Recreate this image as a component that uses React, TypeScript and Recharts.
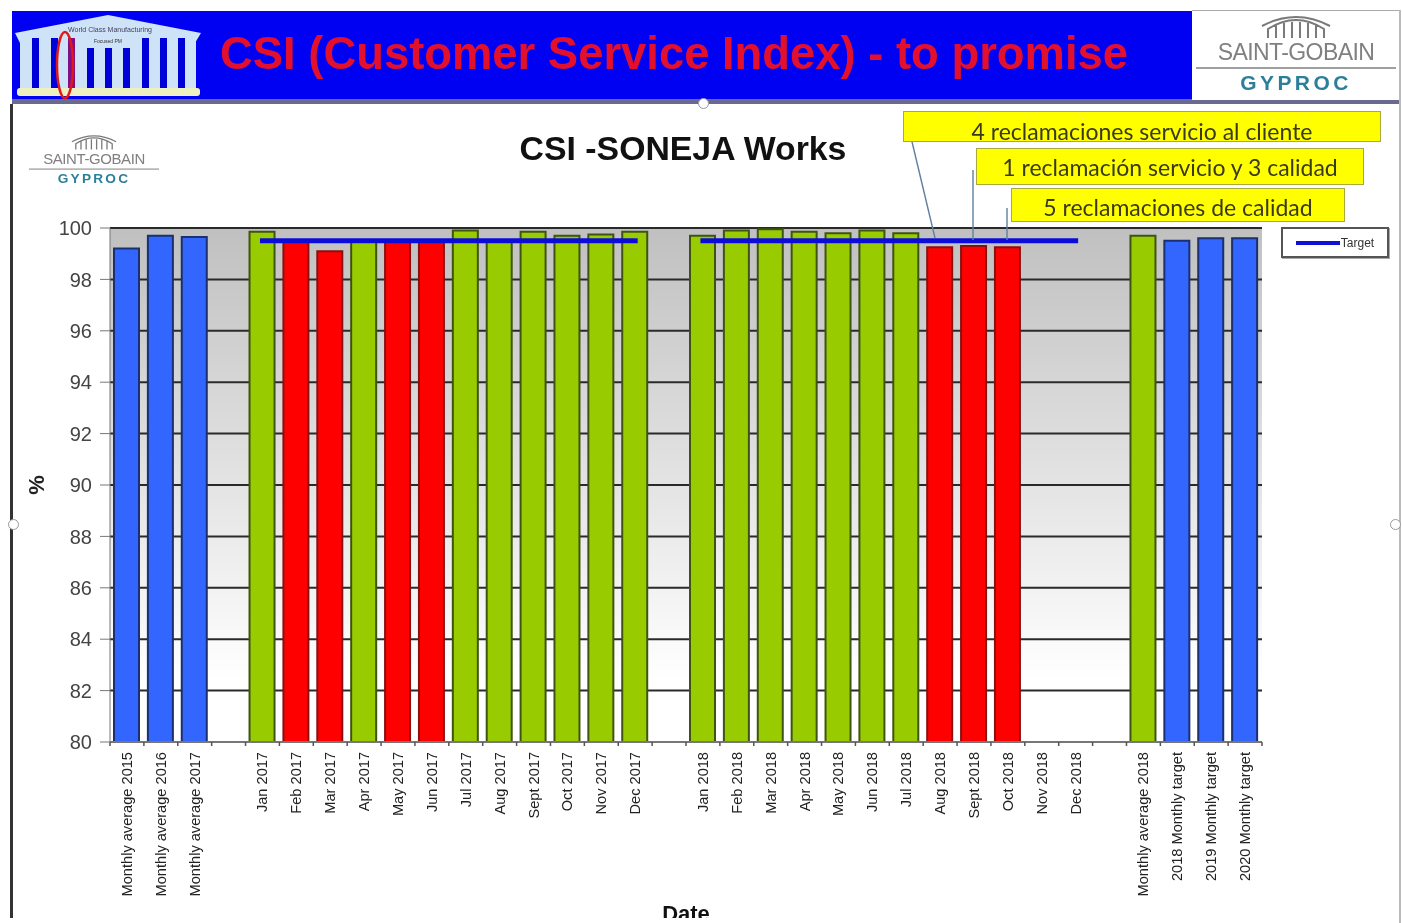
import { Bar, CartesianGrid, Cell, ComposedChart, Legend, Line, XAxis, YAxis } from 'recharts';

const WIDTH = 1402;
const HEIGHT = 923;
const MARGIN = { top: 228, right: 140, bottom: 0, left: 0 };

const labels = [
    'Monthly average 2015', 'Monthly average 2016', 'Monthly average 2017', '',
    'Jan 2017', 'Feb 2017', 'Mar 2017', 'Apr 2017', 'May 2017', 'Jun 2017',
    'Jul 2017', 'Aug 2017', 'Sept 2017', 'Oct 2017', 'Nov 2017', 'Dec 2017', '',
    'Jan 2018', 'Feb 2018', 'Mar 2018', 'Apr 2018', 'May 2018', 'Jun 2018',
    'Jul 2018', 'Aug 2018', 'Sept 2018', 'Oct 2018', 'Nov 2018', 'Dec 2018', '',
    'Monthly average 2018', '2018 Monthly target', '2019 Monthly target', '2020 Monthly target',
];

const csi = [
    99.2, 99.7, 99.65, null,
    99.85, 99.5, 99.1, 99.5, 99.5, 99.5, 99.9, 99.5, 99.85, 99.7, 99.75, 99.85, null,
    99.7, 99.9, 99.95, 99.85, 99.8, 99.9, 99.8, 99.25, 99.3, 99.25, null, null, null,
    99.7, 99.5, 99.6, 99.6,
];

const target = [
    null, null, null, null,
    99.5, 99.5, 99.5, 99.5, 99.5, 99.5, 99.5, 99.5, 99.5, 99.5, 99.5, 99.5, null,
    99.5, 99.5, 99.5, 99.5, 99.5, 99.5, 99.5, 99.5, 99.5, 99.5, 99.5, 99.5, null,
    null, null, null, null,
];

// b = average / target, g = on target, r = below target
const status = 'bbb-grrgrrgggggg-ggggggg' + 'rrr---' + 'gbbb';

const yTicks = [80, 82, 84, 86, 88, 90, 92, 94, 96, 98, 100];

const fills: any = { b: '#3366ff', g: '#99cc00', r: '#ff0000', '-': 'none' };
const strokes: any = { b: '#1a3070', g: '#3f5410', r: '#8a1010', '-': 'none' };

const notes = ['4 reclamaciones servicio al cliente', '1 reclamación servicio y 3 calidad', '5 reclamaciones de calidad'];

const rows = labels.map((label, i) => ({ label, csi: csi[i], target: target[i], status: status[i] }));

const BAND = (WIDTH - MARGIN.right - 110) / labels.length;

const CategoryTick = (props: any) => {
    const { x, y, payload, index } = props;
    return (
        <g>
            <line x1={x - BAND / 2} x2={x - BAND / 2} y1={y} y2={y + 4} stroke="#555" strokeWidth={1.5} />
            {index === labels.length - 1 && <line x1={x + BAND / 2} x2={x + BAND / 2} y1={y} y2={y + 4} stroke="#555" strokeWidth={1.5} />}
            <text
                transform={`translate(${x + 5},${y + 10}) rotate(-90)`}
                textAnchor="end"
                fontFamily="Liberation Sans"
                fontSize={14.6}
                fill="#222"
            >
                {payload.value}
            </text>
        </g>
    );
};

const TargetLegend = () => (
    <div style={{
        width: 104, height: 27, border: '2px solid #555', boxSizing: 'content-box', background: '#fff',
        display: 'flex', alignItems: 'center', justifyContent: 'center', gap: 1,
        fontFamily: 'Liberation Sans', fontSize: 12, color: '#333', boxShadow: '1px 1px 0 #aaa',
    }}>
        <span style={{ width: 44, height: 4, background: '#1010d8', display: 'inline-block' }}></span>
        <span>Target</span>
    </div>
);

const Logo = ({ left, top, scale }: any) => (
    <div style={{ position: 'absolute', left, top, width: 200, height: 90, transform: `scale(${scale})`, transformOrigin: '0 0', textAlign: 'center', fontFamily: 'Liberation Sans' }}>
        <svg width={200} height={26} style={{ display: 'block' }}>
            <path d="M72 24 V15 Q100 -3 128 15 V24 M66 12 Q100 -6 134 12 M80 24 V11 M88 24 V9 M96 24 V8 M104 24 V8 M112 24 V9 M120 24 V11" fill="none" stroke="#7a7a7a" strokeWidth={2} />
        </svg>
        <div style={{ fontSize: 23, color: '#808080', letterSpacing: -0.6, lineHeight: '24px', marginTop: 0 }}>SAINT-GOBAIN</div>
        <div style={{ height: 2, background: '#a0a0a0', margin: '3px 0 1px' }}></div>
        <div style={{ fontSize: 21, fontWeight: 700, color: '#2c7f9a', letterSpacing: 3.4, lineHeight: '26px' }}>GYPROC</div>
    </div>
);

const Temple = () => (
    <svg width={210} height={95} style={{ position: 'absolute', left: 0, top: 8 }}>
        <g transform="translate(0,-8)">
            <polygon points="108,15 201,33 195,43 20,43 15,33" fill="#cfe3f8" />
            <rect x={20} y={38} width={176} height={52} fill="#cfe3f8" />
            {[32, 51, 68, 87, 105, 123, 142, 160, 178].map((gx) => (
                <rect key={gx} x={gx} y={gx > 68 && gx < 142 ? 48 : 38} width={7} height={gx > 68 && gx < 142 ? 40 : 50} fill={gx === 68 ? '#80108a' : '#0000d8'} />
            ))}
            <rect x={17} y={88} width={183} height={8} rx={3} fill="#eef0c0" />
            <text x={110} y={32} textAnchor="middle" fontSize={7} fontFamily="Liberation Sans" fill="#404060">World Class Manufacturing</text>
            <text x={108} y={43} textAnchor="middle" fontSize={5} fontFamily="Liberation Sans" fill="#303030">Focused PM</text>
            <ellipse cx={65} cy={65} rx={8} ry={33} fill="none" stroke="#e01818" strokeWidth={2.5} />
        </g>
    </svg>
);

const noteBox = (text: string, left: number, top: number, width: number, height: number, pad: number) => (
    <div key={text} style={{
        position: 'absolute', left, top, width, height, boxSizing: 'border-box', background: '#ffff00', border: '1.5px solid #a9a93c', paddingTop: pad,
        display: 'flex', alignItems: 'center', justifyContent: 'center', fontFamily: 'Lato', fontSize: 23, color: '#3a3a18', whiteSpace: 'nowrap',
    }}>
        {text}
    </div>
);

export default function App() {
    return (
        <div style={{ position: 'absolute', left: 0, top: 0, width: WIDTH, height: HEIGHT, overflow: 'hidden', background: '#fff', filter: 'blur(0.7px)' }}>
            {/* header band */}
            <div style={{ position: 'absolute', left: 12, top: 11, width: 1180, height: 89, background: '#0000f2' }}></div>
            <div style={{ position: 'absolute', left: 12, top: 99, width: 1388, height: 5, background: '#6a6a90' }}></div>
            <Temple />
            <div style={{ position: 'absolute', left: 220, top: 29, fontFamily: 'Liberation Sans', fontWeight: 700, fontSize: 45.4, color: '#e2102c', whiteSpace: 'nowrap', lineHeight: '50px' }}>
                CSI (Customer Service Index) - to promise
            </div>
            <div style={{ position: 'absolute', left: 1192, top: 10, width: 207, height: 89, background: '#fff', borderTop: '1px solid #aaa' }}></div>
            <Logo left={1196} top={14} scale={1} />
            <Logo left={29} top={134} scale={0.65} />

            {/* frame */}
            <div style={{ position: 'absolute', left: 10, top: 104, width: 3, height: 819, background: '#333' }}></div>
            <div style={{ position: 'absolute', left: 1399, top: 10, width: 2, height: 913, background: '#bbb' }}></div>

            <div style={{ position: 'absolute', left: 0, top: 130, width: 1366, textAlign: 'center', fontFamily: 'Liberation Sans', fontWeight: 700, fontSize: 33.8, color: '#111', lineHeight: '37px' }}>
                CSI -SONEJA Works
            </div>

            <div style={{ position: 'absolute', left: 0, top: 0 }}>
                <ComposedChart width={WIDTH} height={HEIGHT} data={rows} margin={MARGIN} barSize={25}>
                    <defs>
                        <linearGradient id="plotBg" x1="0" y1="0" x2="0" y2="1">
                            <stop offset="0%" stopColor="#c0c0c0" />
                            <stop offset="88%" stopColor="#ffffff" />
                        </linearGradient>
                    </defs>
                    <CartesianGrid horizontal vertical={false} stroke="#2a2a2a" strokeWidth={2} fill="url(#plotBg)" fillOpacity={1} />
                    <XAxis
                        dataKey="label"
                        interval={0}
                        height={181}
                        tickLine={false}
                        tickMargin={0}
                        tickSize={0}
                        axisLine={{ stroke: '#777', strokeWidth: 2 }}
                        tick={<CategoryTick />}
                        label={{ value: 'Date', position: 'insideBottom', offset: 2, fontFamily: 'Liberation Sans', fontWeight: 700, fontSize: 22, fill: '#111' }}
                    />
                    <YAxis
                        width={110}
                        domain={[80, 100]}
                        ticks={yTicks}
                        interval={0}
                        tickSize={10}
                        tickMargin={8}
                        allowDataOverflow
                        stroke="#777"
                        tick={{ fontFamily: 'Liberation Sans', fontSize: 20, fill: '#444' }}
                        label={{ value: '%', angle: -90, position: 'center', dx: -19, fontFamily: 'Liberation Sans', fontWeight: 700, fontSize: 22, fill: '#222' }}
                    />
                    <Bar dataKey="csi" isAnimationActive={false} strokeWidth={2} legendType="none">
                        {rows.map((row, i) => (
                            <Cell key={i} fill={fills[row.status]} stroke={strokes[row.status]} />
                        ))}
                    </Bar>
                    <Line dataKey="target" name="Target" stroke="#0c0cd8" strokeWidth={5} strokeLinecap="square" dot={false} activeDot={false} isAnimationActive={false} />
                    <Legend layout="horizontal" verticalAlign="middle" align="center" content={<TargetLegend />} wrapperStyle={{ position: 'absolute', left: 1281, top: 227, width: 108 }} />
                </ComposedChart>
            </div>

            {/* callouts */}
            <svg width={WIDTH} height={HEIGHT} style={{ position: 'absolute', left: 0, top: 0, pointerEvents: 'none' }}>
                <g stroke="#5f80a0" strokeWidth={1.4} fill="none">
                    <line x1={908} y1={125} x2={935} y2={238} />
                    <line x1={973} y1={170} x2={973} y2={240} />
                    <line x1={1007} y1={208} x2={1007} y2={240} />
                </g>
            </svg>
            {noteBox(notes[0], 903, 111, 478, 31, 8)}
            {noteBox(notes[1], 976, 148, 388, 37, 1)}
            {noteBox(notes[2], 1011, 188, 334, 34, 3)}

            {/* selection handles and the cut-off at the bottom */}
            {[[704, 104], [14, 525], [1396, 525]].map(([cx, cy]) => (
                <div key={cx} style={{ position: 'absolute', left: cx - 6, top: cy - 6, width: 9, height: 9, borderRadius: '50%', background: '#fff', border: '1.5px solid #999' }}></div>
            ))}
            <div style={{ position: 'absolute', left: 0, top: 918, width: 1398, height: 5, background: '#fff' }}></div>
        </div>
    );
}
